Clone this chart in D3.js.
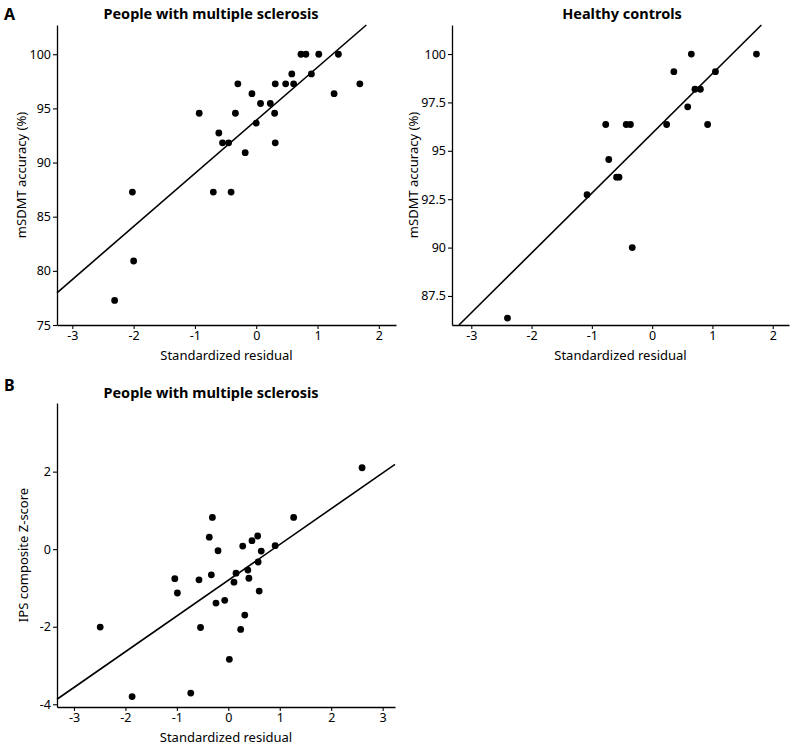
<!DOCTYPE html>
<html>
<head>
<meta charset="utf-8">
<script src="https://cdn.jsdelivr.net/npm/d3@7"></script>
<style>
  body { margin: 0; background: #fff; }
  text { font-family: "Noto Sans", "Open Sans", sans-serif; fill: #000; }
</style>
</head>
<body>
<script>
// panel A, people with MS: standardized residual vs mSDMT accuracy (%)
const msResidA = [-2.31, -2.02, -2.0, -0.93, -0.70, -0.41, -0.61, -0.55, -0.45, -0.34, -0.30, -0.18,
  -0.07, 0.0, 0.07, 0.23, 0.30, 0.31, 0.31, 0.48, 0.58, 0.61, 0.73, 0.81, 0.90, 1.02, 1.27, 1.34, 1.69];
const msAccuracy = [77.27, 87.27, 80.91, 94.55, 87.27, 87.27, 92.73, 91.82, 91.82, 94.55, 97.27, 90.91,
  96.36, 93.64, 95.45, 95.45, 94.55, 97.27, 91.82, 97.27, 98.18, 97.27, 100, 100, 98.18, 100, 96.36, 100, 97.27];

// panel A, healthy controls
const hcResid = [-2.40, -1.08, -0.77, -0.72, -0.59, -0.55, -0.43, -0.36, -0.33, 0.24, 0.36, 0.59,
  0.65, 0.71, 0.80, 0.92, 1.05, 1.73];
const hcAccuracy = [86.36, 92.73, 96.36, 94.55, 93.64, 93.64, 96.36, 96.36, 90.0, 96.36, 99.09, 97.27,
  100, 98.18, 98.18, 96.36, 99.09, 100];

// panel B, people with MS: standardized residual vs IPS composite Z-score
const msResidB = [-2.49, -1.87, -1.04, -0.99, -0.73, -0.57, -0.54, -0.37, -0.33, -0.31, -0.24, -0.20,
  -0.07, 0.02, 0.11, 0.15, 0.24, 0.28, 0.32, 0.38, 0.40, 0.46, 0.57, 0.58, 0.60, 0.64, 0.91, 1.27, 2.60];
const msIps = [-2.01, -3.80, -0.76, -1.13, -3.71, -0.79, -2.02, 0.31, -0.66, 0.82, -1.39, -0.04,
  -1.32, -2.84, -0.85, -0.62, -2.07, 0.08, -1.70, -0.54, -0.75, 0.22, 0.34, -0.33, -1.08, -0.05, 0.09, 0.82, 2.10];

// tick values
const residTicksA = [-3, -2, -1, 0, 1, 2];
const residTicksB = [-3, -2, -1, 0, 1, 2, 3];
const accTicksMS = [75, 80, 85, 90, 95, 100];
const accTicksHC = [87.5, 90, 92.5, 95, 97.5, 100];
const ipsTicks = [-4, -2, 0, 2];

// regression lines: [intercept, slope]
const fitMS = [93.9, 4.9];
const fitHC = [95.9, 3.09];
const fitIps = [-0.80, 0.922];

const W = 794, H = 745;
const svg = d3.select("body").append("svg")
  .attr("width", W)
  .attr("height", H);

function panel(o) {
  const x = d3.scaleLinear().domain(o.xDom).range([o.left, o.right]);
  const y = d3.scaleLinear().domain(o.yDom).range([o.bottom, o.top]);
  const g = svg.append("g");

  // regression line, clipped to the plotting box
  const [b0, b1] = o.fit;
  let xa = o.xDom[0], xb = o.xDom[1];
  xa = Math.max(xa, (o.yDom[0] - b0) / b1);
  xb = Math.min(xb, (o.yDom[1] - b0) / b1);
  g.append("line")
    .attr("x1", x(xa)).attr("y1", y(b0 + b1 * xa))
    .attr("x2", x(xb)).attr("y2", y(b0 + b1 * xb))
    .attr("stroke", "#000")
    .attr("stroke-width", 1.6);

  g.selectAll("circle")
    .data(o.xs.map((d, i) => [d, o.ys[i]]))
    .enter().append("circle")
    .attr("cx", d => x(d[0]))
    .attr("cy", d => y(d[1]))
    .attr("r", 3.4)
    .attr("fill", "#000");

  const xAxis = g.append("g")
    .attr("transform", `translate(0,${o.bottom})`)
    .call(d3.axisBottom(x).tickValues(o.xTicks).tickFormat(d => String(d)).tickSize(4).tickSizeOuter(0).tickPadding(2));
  const yAxis = g.append("g")
    .attr("transform", `translate(${o.left},0)`)
    .call(d3.axisLeft(y).tickValues(o.yTicks).tickFormat(d => String(d)).tickSize(4).tickSizeOuter(0).tickPadding(2));
  [xAxis, yAxis].forEach(a => {
    a.select(".domain").attr("stroke-width", 1.3);
    a.selectAll(".tick line").attr("stroke-width", 1.1);
    a.selectAll("text").style("font-size", "12.5px").attr("fill", "#000");
  });

  g.append("text")
    .attr("x", (o.left + o.right) / 2)
    .attr("y", o.bottom + 35)
    .attr("text-anchor", "middle")
    .style("font-size", "13px")
    .text("Standardized residual");

  g.append("text")
    .attr("transform", `translate(${o.yLabX},${(o.top + o.bottom) / 2}) rotate(-90)`)
    .attr("text-anchor", "middle")
    .style("font-size", "13px")
    .text(o.yLabel);

  g.append("text")
    .attr("x", o.titleX)
    .attr("y", o.titleY)
    .attr("text-anchor", "middle")
    .style("font-size", "14.5px")
    .style("font-weight", "bold")
    .text(o.title);
}

panel({
  xs: msResidA, ys: msAccuracy, fit: fitMS,
  xDom: [-3.25, 2.28], yDom: [75, 102.7], xTicks: residTicksA, yTicks: accTicksMS,
  left: 57, right: 396, top: 25, bottom: 325,
  yLabX: 26, yLabel: "mSDMT accuracy (%)",
  title: "People with multiple sclerosis", titleX: 211, titleY: 19
});

panel({
  xs: hcResid, ys: hcAccuracy, fit: fitHC,
  xDom: [-3.32, 2.27], yDom: [86.0, 101.5], xTicks: residTicksA, yTicks: accTicksHC,
  left: 452, right: 789, top: 25, bottom: 325,
  yLabX: 418, yLabel: "mSDMT accuracy (%)",
  title: "Healthy controls", titleX: 622, titleY: 19
});

panel({
  xs: msResidB, ys: msIps, fit: fitIps,
  xDom: [-3.33, 3.24], yDom: [-4.07, 3.77], xTicks: residTicksB, yTicks: ipsTicks,
  left: 57, right: 395, top: 403, bottom: 707,
  yLabX: 28, yLabel: "IPS composite Z-score",
  title: "People with multiple sclerosis", titleX: 211, titleY: 398
});

// panel letters
svg.append("text").attr("x", 4).attr("y", 20)
  .style("font-size", "16px").style("font-weight", "bold").text("A");
svg.append("text").attr("x", 4).attr("y", 391)
  .style("font-size", "16px").style("font-weight", "bold").text("B");
</script>
</body>
</html>
